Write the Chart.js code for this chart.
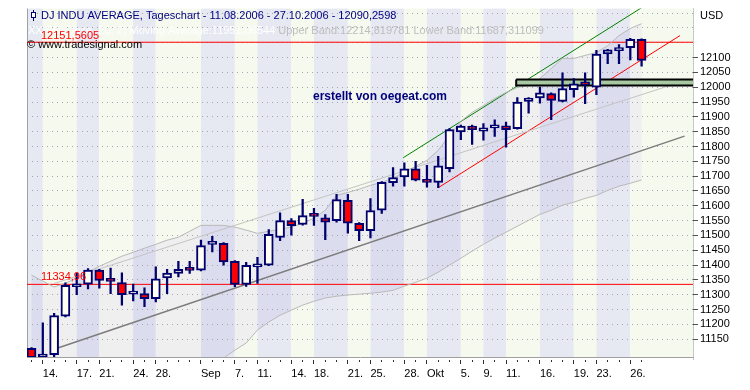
<!DOCTYPE html>
<html><head><meta charset="utf-8">
<script src="https://cdn.jsdelivr.net/npm/chart.js@4.4.0/dist/chart.umd.min.js"></script>
<style>html,body{margin:0;padding:0;background:#fff;}#wrap{width:750px;height:390px;position:relative;}</style>
</head><body><div id="wrap"><canvas id="c" width="750" height="390"></canvas></div>
<script>
// ---- data ----
const dates = ['11.08','14.08','15.08','16.08','17.08','18.08','21.08','22.08','23.08','24.08','25.08','28.08','29.08','30.08','31.08','01.09','05.09','06.09','07.09','08.09','11.09','12.09','13.09','14.09','15.09','18.09','19.09','20.09','21.09','22.09','25.09','26.09','27.09','28.09','29.09','02.10','03.10','04.10','05.10','06.10','09.10','10.10','11.10','12.10','13.10','16.10','17.10','18.10','19.10','20.10','23.10','24.10','25.10','26.10','27.10'];
const openV  = [11119,11088,11098,11228,11327,11336,11383,11347,11341,11302,11304,11287,11357,11372,11384,11383,11470,11473,11413,11335,11394,11400,11493,11550,11537,11566,11559,11550,11618,11541,11516,11585,11678,11697,11725,11686,11679,11725,11849,11869,11852,11863,11870,11860,11952,11964,11978,11952,11992,12015,12000,12112,12123,12133,12161];
const highV  = [11122,11205,11237,11340,11372,11388,11386,11390,11374,11336,11323,11394,11386,11413,11413,11484,11497,11476,11415,11409,11426,11520,11576,11557,11622,11591,11570,11639,11639,11543,11624,11682,11729,11745,11750,11736,11767,11860,11872,11872,11877,11890,11882,11965,11965,12000,11981,12048,12029,12048,12124,12128,12144,12165,12163];
const lowV   = [11070,11060,11090,11225,11300,11320,11322,11304,11265,11279,11260,11276,11304,11360,11372,11380,11444,11400,11327,11328,11338,11398,11482,11501,11535,11534,11486,11545,11508,11482,11492,11574,11666,11666,11684,11663,11661,11714,11823,11807,11821,11834,11798,11858,11912,11946,11890,11950,11966,11944,11975,12079,12079,12092,12071];
const closeV = [11088,11098,11230,11332,11334.96,11383,11348,11345,11300,11309,11287,11354,11373,11386,11382,11466,11477,11411,11335,11399,11401,11504,11550,11533,11567,11564,11545,11621,11541,11516,11584,11679,11695,11725,11686,11679,11735,11857,11869,11857,11863,11873,11857,11950,11963,11981,11955,11995,12011,12008,12112,12126,12129,12161,12090.26];
const upperBand = [11366,11346,11326,11339,11356,11376,11396,11413,11430,11443,11457,11470,11484,11494,11514,11534,11534,11534,11528,11518,11507,11514,11521,11528,11541,11558,11585,11635,11645,11656,11669,11679,11693,11713,11733,11753,11787,11837,11885,11915,11938,11962,11982,11999,12006,12029,12063,12097,12097,12107,12117,12140,12174,12198,12214];
const lowerBand = [10960,10965,10970,10975,10985,10995,11005,11012,11020,11028,11035,11042,11050,11057,11063,11070,11078,11086,11113,11137,11181,11208,11231,11248,11265,11278,11289,11295,11299,11302,11305,11309,11315,11329,11342,11356,11376,11400,11423,11447,11470,11491,11511,11531,11551,11571,11585,11602,11612,11625,11635,11652,11666,11676,11687];
const xTickIdx  = [1,4,6,9,11,15,18,20,23,25,28,30,33,35,38,40,42,45,48,50,53];
const xTickText = ['14.','17.','21.','24.','28.','Sep','7.','11.','14.','18.','21.','25.','28.','Okt','5.','9.','11.','16.','19.','23.','26.'];
const yTicks = [11150,11200,11250,11300,11350,11400,11450,11500,11550,11600,11650,11700,11750,11800,11850,11900,11950,12000,12050,12100];
const yGridOnly = [12150,12200,12250];
const greenX = [32.9, 56], greenY = [11762, 12316];
const redTX = [36, 57.4], redTY = [11661, 12174];
const darkX = [2, 57.8], darkY = [11116, 11835];
const lightX = [2, 58.1], lightY = [11338, 12025];
const boxX = [42.9, 58.8], boxY = [12006, 12026];
const hiLevel = 12151.5605, loLevel = 11334.96;
const titleText = 'DJ INDU AVERAGE, Tageschart - 11.08.2006 - 27.10.2006 - 12090,2598';
const legendA = 'XX BB(Close, 20, 2) Moving Average:11951,06544';
const legendB = 'Upper Band:12214,819781 Lower Band:11687,311099';

// ---- styling ----
const NAVY = '#00006e';
const outA = '#e6e9f1', outB = '#f6f9ee', inA = '#dcdcef', inB = '#efefef';
Chart.defaults.font.family = '"Liberation Sans", Arial, sans-serif';
Chart.defaults.font.size = 11;

const pts = (xs, ys) => xs.map((x, i) => ({x, y: ys[i]}));
const lineDs = (data, color, w, extra) => Object.assign({type:'line', data, borderColor:color, borderWidth:w, pointRadius:0, fill:false, tension:0, order:5}, extra||{});
const tickLabel = {};
xTickIdx.forEach((v, k) => tickLabel[v] = xTickText[k]);

const bandPath = (ctx, x, y) => {
  ctx.beginPath();
  upperBand.forEach((v, i) => { const px = x.getPixelForValue(i), py = y.getPixelForValue(v); i ? ctx.lineTo(px, py) : ctx.moveTo(px, py); });
  for (let i = lowerBand.length - 1; i >= 0; i--) ctx.lineTo(x.getPixelForValue(i), y.getPixelForValue(lowerBand[i]));
  ctx.closePath();
};

const bgPlugin = {
  id: 'bg',
  beforeDraw(chart) {
    const {ctx, chartArea: a, scales: {x, y}} = chart;
    const edges = [a.left, ...xTickIdx.map(i => x.getPixelForValue(i)), a.right];
    const paint = (cA, cB) => {
      for (let k = 0; k < edges.length - 1; k++) {
        ctx.fillStyle = k % 2 === 0 ? cA : cB;
        ctx.fillRect(edges[k], a.top, edges[k+1] - edges[k], a.bottom - a.top);
      }
    };
    ctx.save();
    paint(outA, outB);
    ctx.beginPath();
    ctx.rect(a.left, a.top, a.right - a.left, a.bottom - a.top);
    ctx.clip();
    bandPath(ctx, x, y);
    ctx.clip();
    paint(inA, inB);
    ctx.restore();
    ctx.save();
    ctx.strokeStyle = '#a0a0a0'; ctx.lineWidth = 1;
    ctx.beginPath(); ctx.moveTo(Math.round(a.left) + 0.5, a.top); ctx.lineTo(Math.round(a.left) + 0.5, a.bottom); ctx.stroke();
    ctx.setLineDash([1, 1]); ctx.strokeStyle = '#909090';
    ctx.beginPath(); ctx.moveTo(Math.round(a.right) + 0.5, a.top); ctx.lineTo(Math.round(a.right) + 0.5, a.bottom + 3); ctx.stroke();
    ctx.restore();
  },
  afterDraw(chart) {
    const {ctx} = chart;
    ctx.save();
    ctx.textBaseline = 'middle';
    ctx.font = '11px "Liberation Sans", Arial, sans-serif';
    ctx.fillStyle = NAVY; ctx.fillRect(33, 10, 1, 11);
    ctx.fillRect(31, 12, 5, 6); ctx.fillStyle = '#fff'; ctx.fillRect(32, 13, 3, 4);
    ctx.fillStyle = '#000080';
    ctx.fillText(titleText, 41, 15.5);
    ctx.fillStyle = '#ffffff';
    ctx.fillText(legendA, 28, 31);
    const wA = ctx.measureText(legendA + ' ').width;
    ctx.fillStyle = '#bdbdbd';
    ctx.fillText(legendB, 28 + wA, 31);
    ctx.fillStyle = '#ff0000';
    ctx.fillText('12151,5605', 41, 36);
    ctx.fillText('11334,96', 41, 277);
    ctx.fillStyle = '#000000';
    ctx.fillText('\u00a9 www.tradesignal.com', 27, 45);
    ctx.fillText('USD', 700, 15.5);
    ctx.font = 'bold 12px "Liberation Sans", Arial, sans-serif';
    ctx.fillStyle = '#00007a';
    ctx.fillText('erstellt von oegeat.com', 313, 97);
    ctx.restore();
  }
};

const isLabeled = v => yTicks.indexOf(v) >= 0;
const yAllTicks = yTicks.concat(yGridOnly).sort((a, b) => a - b);

new Chart(document.getElementById('c'), {
  type: 'bar',
  data: {
    datasets: [
      lineDs(upperBand.map((v, i) => ({x:i, y:v})), '#b9b9b9', 1),
      lineDs(lowerBand.map((v, i) => ({x:i, y:v})), '#b9b9b9', 1),
      lineDs(pts(lightX, lightY), '#c4c4c4', 1),
      lineDs(pts(darkX, darkY), '#7c7c7c', 1.5),
      lineDs([{x:boxX[0],y:boxY[1]},{x:boxX[1],y:boxY[1]},{x:boxX[1],y:boxY[0]},{x:boxX[0],y:boxY[0]},{x:boxX[0],y:boxY[1]}], '#000000', 2, {fill:'shape', backgroundColor:'#a8c8a2', order:4}),
      lineDs([{x:-1,y:hiLevel},{x:60,y:hiLevel}], '#ff0000', 1),
      lineDs([{x:-1,y:loLevel},{x:60,y:loLevel}], '#ff0000', 1),
      lineDs(pts(greenX, greenY), '#008000', 1),
      lineDs(pts(redTX, redTY), '#ff0000', 1),
      {type:'bar', data: lowV.map((l, i) => ({x:i, y:[l, highV[i]]})), backgroundColor: NAVY, barThickness: 1.6, grouped:false, order:1},
      {type:'bar', data: openV.map((o, i) => ({x:i, y:[Math.min(o, closeV[i]), Math.max(o, closeV[i])]})),
        backgroundColor: openV.map((o, i) => closeV[i] >= o ? '#fffff2' : '#ff0000'),
        borderColor: NAVY, borderWidth: 2, borderSkipped: false, barThickness: 9, minBarLength: 3, grouped:false, order:0}
    ]
  },
  options: {
    responsive: false, animation: false, events: [],
    layout: {padding: {left: 27, top: 8, right: 0, bottom: 0}},
    plugins: {legend: {display: false}, tooltip: {enabled: false}},
    scales: {
      x: {
        type: 'linear', min: -0.4, max: 58.55, offset: false,
        afterBuildTicks: s => { s.ticks = dates.map((d, i) => ({value: i})); },
        afterFit: s => { s.height = 33; },
        grid: {drawOnChartArea: false, offset: false, tickLength: 7, tickColor: '#303030', tickWidth: 1,
          tickBorderDash: c => (c.tick && tickLabel[c.tick.value] !== undefined) ? [0, 2, 5, 40] : [0, 2, 2, 40]},
        border: {color: '#a0a0a0', width: 1},
        ticks: {autoSkip: false, maxRotation: 0, minRotation: 0, align: 'start', padding: 3, color: '#000',
          callback: v => tickLabel[v] !== undefined ? tickLabel[v] : ''}
      },
      y: {
        type: 'linear', position: 'right', min: 11090, max: 12265,
        afterBuildTicks: s => { s.ticks = yAllTicks.map(v => ({value: v})); },
        afterFit: s => { s.width = 57; },
        grid: {color: '#a4a4b0', lineWidth: 1, tickLength: 5, drawTicks: true,
          tickColor: c => (c.tick && isLabeled(c.tick.value)) ? '#505050' : 'rgba(0,0,0,0)'},
        border: {display: false, dash: [1, 4]},
        ticks: {autoSkip: false, padding: 2, color: '#000', callback: v => isLabeled(v) ? String(v) : ''}
      }
    }
  },
  plugins: [bgPlugin]
});
</script></body></html>
